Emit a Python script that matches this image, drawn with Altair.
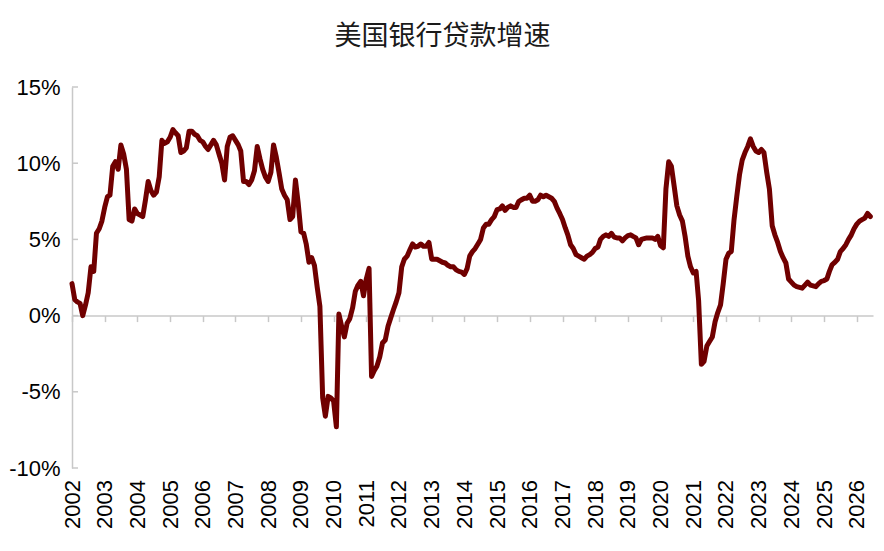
import altair as alt
import pandas as pd

# Monthly US bank loan growth (YoY, %), starting January 2002
start_month = "2002-01-01"
loan_growth = [
    # 2002
    2.1, 1.05, 0.9, 0.8, 0.0, 0.7, 1.5, 3.2, 2.9, 5.4, 5.7, 6.2,
    # 2003
    7.1, 7.8, 7.9, 9.8, 10.1, 9.6, 11.2, 10.6, 9.6, 6.3, 6.2, 7.0,
    # 2004
    6.7, 6.6, 6.5, 7.6, 8.8, 8.2, 7.9, 8.1, 9.1, 11.5, 11.3, 11.4,
    # 2005
    11.7, 12.2, 12.0, 11.8, 10.7, 10.8, 11.0, 12.1, 12.1, 11.9, 11.8, 11.5,
    # 2006
    11.4, 11.1, 10.9, 11.2, 11.5, 11.2, 10.6, 10.0, 8.9, 11.1, 11.7, 11.8,
    # 2007
    11.5, 11.2, 10.8, 8.8, 8.8, 8.6, 8.9, 9.5, 11.1, 10.3, 9.6, 9.1,
    # 2008
    8.8, 9.4, 11.2, 10.4, 9.4, 8.3, 7.9, 7.6, 6.3, 6.5, 8.9, 7.4,
    # 2009
    5.5, 5.4, 4.7, 3.5, 3.8, 3.3, 1.9, 0.6, -5.4, -6.6, -5.3, -5.4,
    # 2010
    -5.6, -7.3, 0.1, -0.7, -1.4, -0.5, -0.2, 0.5, 1.6, 2.0, 2.25, 1.3,
    # 2011
    2.4, 3.1, -4.0, -3.6, -3.3, -2.7, -1.8, -1.6, -0.7, -0.15, 0.4, 0.9,
    # 2012
    1.5, 3.2, 3.7, 3.9, 4.3, 4.7, 4.5, 4.55, 4.7, 4.55, 4.55, 4.8,
    # 2013
    3.7, 3.7, 3.7, 3.6, 3.5, 3.45, 3.3, 3.2, 3.2, 3.0, 2.9, 2.85,
    # 2014
    2.7, 3.1, 3.9, 4.2, 4.4, 4.7, 5.0, 5.75, 6.0, 6.0, 6.3, 6.5,
    # 2015
    6.95, 7.0, 7.2, 6.9, 7.1, 7.2, 7.1, 7.1, 7.5, 7.6, 7.7, 7.7,
    # 2016
    7.9, 7.5, 7.5, 7.6, 7.9, 7.8, 7.9, 7.8, 7.7, 7.5, 7.05, 6.7,
    # 2017
    6.3, 5.75, 5.3, 4.65, 4.4, 4.0, 3.9, 3.8, 3.7, 3.9, 4.0, 4.15,
    # 2018
    4.4, 4.5, 5.0, 5.2, 5.3, 5.2, 5.4, 5.15, 5.1, 5.1, 4.9, 5.1,
    # 2019
    5.25, 5.3, 5.2, 5.1, 4.65, 5.0, 5.05, 5.1, 5.1, 5.1, 5.0, 5.2,
    # 2020
    4.6, 4.45, 8.3, 10.1, 9.8, 8.5, 7.2, 6.6, 6.2, 5.2, 3.9, 3.2,
    # 2021
    2.8, 2.9, 1.0, -3.2, -3.0, -2.0, -1.7, -1.4, -0.4, 0.2, 0.7, 2.1,
    # 2022
    3.7, 4.1, 4.2, 6.3, 7.8, 9.25, 10.2, 10.7, 11.1, 11.6, 11.1, 10.8,
    # 2023
    10.7, 10.9, 10.7, 9.4, 8.3, 5.9, 5.3, 4.8, 4.2, 3.8, 3.45, 2.4,
    # 2024
    2.2, 2.0, 1.9, 1.85, 1.8, 2.0, 2.2, 2.0, 1.95, 1.9, 2.1, 2.25,
    # 2025
    2.3, 2.4, 2.9, 3.35, 3.5, 3.7, 4.2, 4.4, 4.65, 5.0, 5.3, 5.7,
    # 2026
    6.0, 6.2, 6.3, 6.4, 6.7, 6.5,
]
y_ticks = [-10, -5, 0, 5, 10, 15]
year_labels = list(range(2002, 2027))
title_text = "美国银行贷款增速"

dates = pd.date_range(start_month, periods=len(loan_growth), freq="MS")
df = pd.DataFrame({"date": dates, "growth": loan_growth})
ticks_df = pd.DataFrame({"v": y_ticks})

AXIS_GRAY = "#c8c8c8"
LABEL_FONT = "Liberation Sans"

x_scale = alt.Scale(domain=[alt.DateTime(year=2002, month=1, date=1),
                            alt.DateTime(year=2026, month=7, date=1)])
y_scale = alt.Scale(domain=[-10, 15], nice=False, zero=False)

line = alt.Chart(df).mark_line(
    color="#700000", strokeWidth=5, strokeJoin="round", strokeCap="round"
).encode(
    x=alt.X("date:T", scale=x_scale, title=None, axis=alt.Axis(
        values=[alt.DateTime(year=y, month=1, date=1) for y in year_labels],
        format="%Y", labelAngle=270, labelFontSize=22, labelFont=LABEL_FONT,
        labelColor="#000000", domainColor=AXIS_GRAY, domainWidth=1.5,
        tickColor=AXIS_GRAY, tickSize=6, tickWidth=1.5, offset=-152.4,
        labelPadding=158, grid=False, labelFlush=False, labelOverlap=False)),
    y=alt.Y("growth:Q", scale=y_scale, title=None, axis=alt.Axis(
        values=y_ticks, labelExpr="datum.value + '%'", labelFontSize=22,
        labelFont=LABEL_FONT, labelColor="#000000", domainColor=AXIS_GRAY,
        domainWidth=1.5, ticks=False, tickSize=0, labelPadding=12, grid=False)),
)

inner_ticks = alt.Chart(ticks_df).mark_rule(color=AXIS_GRAY, strokeWidth=1.5).encode(
    y=alt.Y("v:Q", scale=y_scale),
    x=alt.value(0),
    x2=alt.value(6),
)

chart = alt.layer(inner_ticks, line).properties(
    width=801,
    height=381,
    title=alt.Title(title_text, fontSize=27, font="Noto Sans CJK SC",
                    fontWeight="normal", color="#1a1a1a", anchor="middle",
                    dx=-30, offset=25),
    padding={"left": 64, "top": 79, "right": 2, "bottom": 70},
    autosize="none",
).configure_view(stroke=None)

chart.save("out.html", embed_options={"renderer": "svg", "actions": False})
